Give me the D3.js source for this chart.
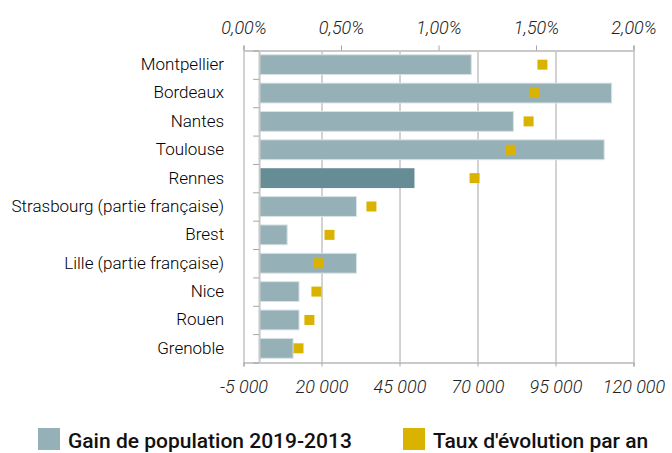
<!DOCTYPE html>
<html>
  <head>
    <meta charset="utf-8" />
    <style>
      body {
        margin: 0;
        background: #fff;
      }
      svg text {
        font-family: Roboto, 'Noto Sans', sans-serif;
      }
    </style>
    <script src="https://d3js.org/d3.v7.min.js"></script>
  </head>
  <body>
    <svg id="chart" width="672" height="453"></svg>
    <script>
      // data
      var cities = [
        'Montpellier',
        'Bordeaux',
        'Nantes',
        'Toulouse',
        'Rennes',
        'Strasbourg (partie française)',
        'Brest',
        'Lille (partie française)',
        'Nice',
        'Rouen',
        'Grenoble',
      ];
      var gain = [68000, 113000, 81500, 110600, 49800, 31200, 9000, 31200, 12800, 12800, 10900];
      var taux = [0.01533, 0.01492, 0.01462, 0.01368, 0.01185, 0.00656, 0.00441, 0.00383, 0.00374, 0.00338, 0.00282];
      var gainTicks = [-5000, 20000, 45000, 70000, 95000, 120000];
      var tauxTicks = [0, 0.005, 0.01, 0.015, 0.02];
      var highlight = 'Rennes';
      var legendItems = ['Gain de population 2019-2013', "Taux d'évolution par an"];

      var rows = cities.map((c, i) => ({ city: c, gain: gain[i], taux: taux[i] }));

      var fr = d3.formatLocale({
        decimal: ',',
        thousands: '\u00a0',
        grouping: [3],
        currency: ['', ' €'],
        minus: '-',
      });

      var svg = d3.select('#chart'),
        plotLeft = 243.5,
        plotRight = 633.5,
        plotTop = 50.5,
        plotBottom = 362.5;

      var x = d3.scaleLinear().domain([-5000, 120000]).range([plotLeft, plotRight]);
      var xp = d3.scaleLinear().domain([0, 0.02]).range([plotLeft, plotRight]);
      var y = d3
        .scaleBand()
        .domain(cities)
        .range([plotTop, plotBottom])
        .paddingInner(0.3)
        .paddingOuter(0.15);

      // gridlines
      svg
        .append('g')
        .attr('class', 'grid')
        .attr('transform', `translate(0,${plotBottom})`)
        .call(
          d3
            .axisBottom(x)
            .tickValues(gainTicks)
            .tickSize(-(plotBottom - plotTop))
            .tickFormat('')
        )
        .call((g) => g.select('.domain').remove())
        .call((g) => g.selectAll('line').attr('stroke', '#a6a6a6'));

      // bottom axis
      var xAxis = svg
        .append('g')
        .attr('transform', `translate(0,${plotBottom})`)
        .call(
          d3
            .axisBottom(x)
            .tickValues(gainTicks)
            .tickSize(4)
            .tickPadding(14)
            .tickFormat(fr.format(',.0f'))
        );
      xAxis.select('.domain').attr('stroke', '#c9c9c9').attr('stroke-width', 2);
      xAxis.selectAll('line').attr('stroke', '#a6a6a6');
      xAxis
        .selectAll('text')
        .attr('font-size', 18)
        .attr('font-style', 'italic')
        .attr('font-weight', 300)
        .attr('fill', '#222');

      // top axis
      var pAxis = svg
        .append('g')
        .attr('transform', `translate(0,${plotTop})`)
        .call(
          d3
            .axisTop(xp)
            .tickValues(tauxTicks)
            .tickSize(5)
            .tickPadding(12)
            .tickFormat(fr.format('.2%'))
        );
      pAxis.select('.domain').attr('stroke', '#c9c9c9').attr('stroke-width', 2);
      pAxis.selectAll('line').attr('stroke', '#a6a6a6');
      pAxis
        .selectAll('text')
        .attr('font-size', 18)
        .attr('font-style', 'italic')
        .attr('font-weight', 300)
        .attr('fill', '#222');

      // bars
      svg
        .append('g')
        .selectAll('rect')
        .data(rows)
        .join('rect')
        .attr('x', x(0))
        .attr('y', (d) => y(d.city))
        .attr('width', (d) => x(d.gain) - x(0))
        .attr('height', y.bandwidth())
        .attr('fill', (d) => (d.city == highlight ? '#668c95' : '#95b0b6'))
        .attr('stroke', (d) => (d.city == highlight ? 'none' : '#d8e3e6'))
        .attr('stroke-width', 1);

      // category axis at zero, ticks between categories
      var sep = d3
        .scaleLinear()
        .domain([0, cities.length])
        .range([plotTop, plotBottom]);
      var catAxis = svg
        .append('g')
        .attr('transform', `translate(${x(0)},0)`)
        .call(d3.axisLeft(sep).ticks(cities.length).tickSize(6).tickFormat(''));
      catAxis.select('.domain').attr('stroke', '#c9c9c9').attr('stroke-width', 2);
      catAxis.selectAll('line').attr('stroke', '#a6a6a6');

      var labels = svg
        .append('g')
        .attr('transform', `translate(${x(0)},0)`)
        .call(d3.axisLeft(y).tickSize(0).tickPadding(35));
      labels.select('.domain').remove();
      labels
        .selectAll('text')
        .attr('font-size', 17)
        .attr('font-weight', 300)
        .attr('fill', '#000');

      // squares for the rate
      var sq = 10;
      svg
        .append('g')
        .selectAll('rect')
        .data(rows)
        .join('rect')
        .attr('x', (d) => xp(d.taux) - sq / 2)
        .attr('y', (d) => y(d.city) + y.bandwidth() / 2 - sq / 2)
        .attr('width', sq)
        .attr('height', sq)
        .attr('fill', '#dab300');

      // legend
      var legend = svg
        .append('g')
        .selectAll('g')
        .data(legendItems)
        .join('g')
        .attr('transform', (d, i) => `translate(${[38, 403][i]},428)`);
      legend
        .append('rect')
        .attr('width', 22)
        .attr('height', 22)
        .attr('fill', (d, i) => ['#95b0b6', '#dab300'][i]);
      legend
        .append('text')
        .attr('x', 30)
        .attr('y', 20)
        .attr('font-size', 21)
        .attr('font-weight', 500)
        .attr('fill', '#111')
        .text((d) => d);
    </script>
  </body>
</html>
